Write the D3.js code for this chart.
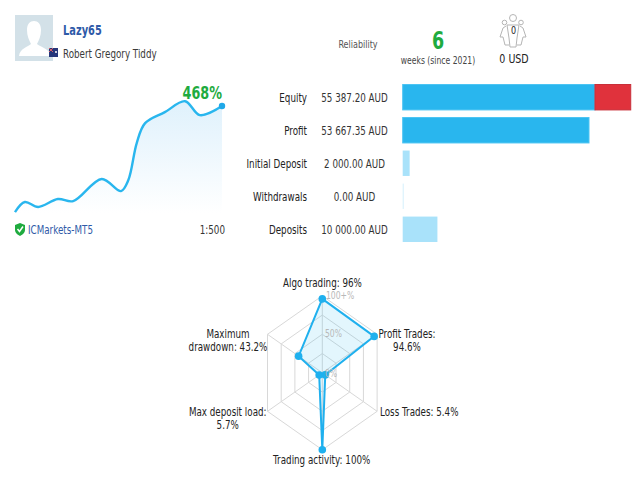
<!DOCTYPE html>
<html>
<head>
<meta charset="utf-8">
<script src="https://cdnjs.cloudflare.com/ajax/libs/d3/7.8.5/d3.min.js"></script>
<style>
  html, body { margin: 0; padding: 0; background: #fff; }
  svg { display: block; }
  text { font-family: "DejaVu Sans", sans-serif; fill: #2b2b2b; }
</style>
</head>
<body>
<script>
// growth curve: day of the 6 weeks, growth %
var growthDays = [0, 2, 4.7, 8.7, 11.8, 17.6, 21.5, 23, 24.7, 26.4, 30.4, 34.5, 37.5, 42];
var growthPct = [4, 48, 26, 61, 52, 149, 96, 144, 306, 393, 441, 489, 428, 468];

// account bars
var barNames = ["Equity", "Profit", "Initial Deposit", "Withdrawals", "Deposits"];
var barLabels = ["55 387.20 AUD", "53 667.35 AUD", "2 000.00 AUD", "0.00 AUD", "10 000.00 AUD"];
var barValues = [55387.20, 53667.35, 2000, 0, 10000];
var barExtra = [10300, 0, 0, 0, 0];

// radar
var radarNames = ["Algo trading", "Profit Trades", "Loss Trades", "Trading activity", "Max deposit load", "Maximum drawdown"];
var radarValues = [96, 94.6, 5.4, 100, 5.7, 43.2];
var radarRings = [25, 50, 75, 100];

var w = 640, h = 480;
var blue = "#29b6ee", pale = "#a9e2fa", green = "#1fab3f", link = "#2f5aa8";
var squeeze = 0.73; // the picture is narrow, text too

var svg = d3.select("body").append("svg").attr("width", w).attr("height", h);

function label(x, y, str, size, anchor, color, weight) {
  return svg.append("text")
    .attr("transform", "translate(" + x + "," + y + ") scale(" + squeeze + ",1)")
    .attr("text-anchor", anchor || "start")
    .attr("dominant-baseline", "central")
    .attr("font-size", size)
    .attr("font-weight", weight || "normal")
    .style("fill", color || "#2b2b2b")
    .text(str);
}

// header: avatar
svg.append("rect").attr("x", 15).attr("y", 15).attr("width", 38).attr("height", 46).attr("fill", "#d3e1e8");
svg.append("path").attr("fill", "#fff")
  .attr("d", "M19,56 C20,48 28,47 31,44 C29,40 27,36 27,30 C27,24 30,21 34,21 C38,21 41,24 41,30 C41,36 39,40 37,44 C40,47 49,48 51,56 Z");
svg.append("rect").attr("x", 49).attr("y", 48).attr("width", 9).attr("height", 9).attr("fill", "#26367a");
svg.append("path").attr("d", "M49,48 L53,52 M53,48 L49,52").attr("stroke", "#d8606a").attr("stroke-width", 1);
svg.append("circle").attr("cx", 56).attr("cy", 52).attr("r", 1).attr("fill", "#fff");

label(63, 30, "Lazy65", 13.5, "start", link, "bold");
label(63, 53, "Robert Gregory Tiddy", 12, "start", "#3a3a3a");
label(358, 44, "Reliability", 11, "middle", "#555");
label(438, 40, "6", 24, "middle", green, "bold");
label(438, 60, "weeks (since 2021)", 10.5, "middle", "#444");

// investors icon
var people = svg.append("g").attr("fill", "none").attr("stroke", "#b5b5b5").attr("stroke-width", 1);
[[513, 18, 3.5], [504.5, 22.5, 2.3], [521, 22.5, 2.3]].forEach(function(c) {
  people.append("circle").attr("cx", c[0]).attr("cy", c[1]).attr("r", c[2]);
});
people.append("path").attr("d", "M506,26 L503,28 L500,37 L503,37 L505,45 L509,45 M520,26 L523,28 L526,37 L523,37 L521,45 L517,45");
people.append("path").attr("d", "M507,25 L509,38 L510,47 L516,47 L517,38 L519,25 Z");
label(513.5, 30, "0", 11, "middle", "#222");
label(514, 58, "0 USD", 13, "middle", "#222");

// growth chart
var gx = d3.scaleLinear().domain([0, 42]).range([15, 222]);
var gy = d3.scaleLinear().domain([0, 468]).range([213, 106]);

var grad = svg.append("defs").append("linearGradient").attr("id", "fade")
  .attr("x1", 0).attr("y1", 0).attr("x2", 0).attr("y2", 1);
grad.append("stop").attr("offset", "0%").attr("stop-color", "#dff1fc");
grad.append("stop").attr("offset", "100%").attr("stop-color", "#ffffff");

var pts = growthDays.map(function(d, i) { return [d, growthPct[i]]; });
var smooth = d3.curveCatmullRom.alpha(0.5);
var area = d3.area().x(function(d) { return gx(d[0]); }).y0(gy(0)).y1(function(d) { return gy(d[1]); }).curve(smooth);
var line = d3.line().x(function(d) { return gx(d[0]); }).y(function(d) { return gy(d[1]); }).curve(smooth);

svg.append("path").datum(pts).attr("d", area).attr("fill", "url(#fade)");
svg.append("path").datum(pts).attr("d", line).attr("fill", "none").attr("stroke", blue).attr("stroke-width", 2.4);
svg.append("circle").attr("cx", gx(42)).attr("cy", gy(468)).attr("r", 3.2).attr("fill", "#1fa8e8");

label(222, 93, "468%", 17.5, "end", green, "bold");

// shield
svg.append("path").attr("fill", green)
  .attr("d", "M15,225 L20,223 L25,225 L25,230 C25,233 22,235 20,236 C18,235 15,233 15,230 Z");
svg.append("path").attr("d", "M17.5,229 L19.5,231.5 L23,226.5").attr("fill", "none").attr("stroke", "#fff").attr("stroke-width", 1.5);
label(28, 229, "ICMarkets-MT5", 12, "start", link);
label(225, 229, "1:500", 12, "end", "#333");

// bars
var bx = d3.scaleLinear().domain([0, 53667.35]).range([402.7, 589]);
var by = d3.scaleBand().domain(barNames).range([84.5, 242]).paddingInner(0.23).paddingOuter(0);

barNames.forEach(function(n, i) {
  var y = by(n), bh = by.bandwidth();
  var solid = i < 2;
  label(307, y + bh / 2, n, 12, "end", "#222");
  label(354.5, y + bh / 2, barLabels[i], 12, "middle", "#333");
  svg.append("rect")
    .attr("x", bx(0)).attr("y", y)
    .attr("width", Math.max(bx(barValues[i]) - bx(0), 1)).attr("height", bh)
    .attr("fill", solid ? blue : (barValues[i] > 0 ? pale : "#d5f0fc"))
    .attr("stroke", solid ? "#4cc4f3" : "none");
  if (barExtra[i] > 0) {
    svg.append("rect")
      .attr("x", bx(barValues[i])).attr("y", y)
      .attr("width", bx(barExtra[i]) - bx(0)).attr("height", bh)
      .attr("fill", "#e0323c").attr("stroke", "#c8303a");
  }
});

// radar
var cx = 322.3, cy = 372.8, stretch = 0.822;
var rr = d3.scaleLinear().domain([0, 100]).range([0, 77]);
var n = radarNames.length;
function spot(v, i) {
  var a = i * 2 * Math.PI / n;
  return [cx + rr(v) * Math.sin(a) * stretch, cy - rr(v) * Math.cos(a)];
}
var ring = d3.line().curve(d3.curveLinearClosed);

radarRings.forEach(function(r) {
  svg.append("path").attr("d", ring(radarNames.map(function(d, i) { return spot(r, i); })))
    .attr("fill", "none").attr("stroke", "#d8d8d8").attr("stroke-width", 1);
});
radarNames.forEach(function(d, i) {
  var p = spot(100, i);
  svg.append("line").attr("x1", cx).attr("y1", cy).attr("x2", p[0]).attr("y2", p[1])
    .attr("stroke", "#d8d8d8").attr("stroke-width", 1);
});

var poly = radarValues.map(spot);
svg.append("path").attr("d", ring(poly)).attr("fill", blue).attr("fill-opacity", 0.13)
  .attr("stroke", "#1fb0ee").attr("stroke-width", 2);
svg.selectAll("circle.pt").data(poly).enter().append("circle").attr("class", "pt")
  .attr("cx", function(d) { return d[0]; }).attr("cy", function(d) { return d[1]; })
  .attr("r", 3.8).attr("fill", "#1fb0ee");

label(326, 295, "100+%", 10.5, "start", "#b8b8b8");
label(325, 333, "50%", 10.5, "start", "#b8b8b8");
label(325, 373, "0%", 10.5, "start", "#b8b8b8");

function pct(i) { return radarValues[i] + "%"; }
label(322.5, 282, radarNames[0] + ": " + pct(0), 12, "middle", "#222");
label(407, 333, radarNames[1] + ":", 12, "middle", "#222");
label(407, 346, pct(1), 12, "middle", "#222");
label(380, 411, radarNames[2] + ": " + pct(2), 12, "start", "#222");
label(321.7, 459, radarNames[3] + ": " + pct(3), 12, "middle", "#222");
label(227.7, 411, radarNames[4] + ":", 12, "middle", "#222");
label(227.7, 424, pct(4), 12, "middle", "#222");
label(228, 333, "Maximum", 12, "middle", "#222");
label(228, 346, "drawdown: " + pct(5), 12, "middle", "#222");
</script>
</body>
</html>
